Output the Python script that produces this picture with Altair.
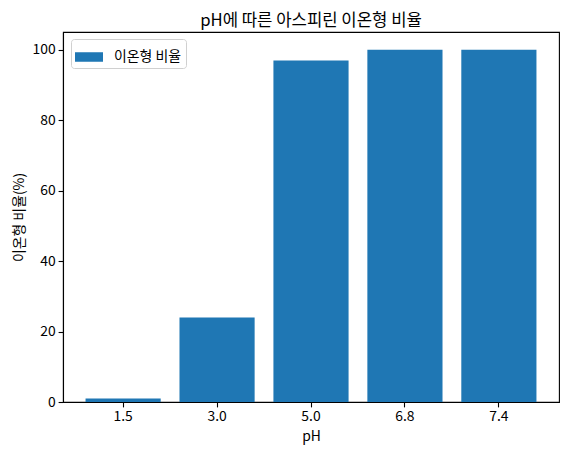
import altair as alt
import pandas as pd

ph_labels = ["1.5", "3.0", "5.0", "6.8", "7.4"]
ionized_pct = [0.99, 24.0, 96.9, 99.95, 99.99]
series_name = ["이온형 비율"] * 5

df = pd.DataFrame({"pH": ph_labels, "pct": ionized_pct, "series": series_name})

FONT = "Noto Sans CJK KR"

bars = alt.Chart(df).mark_bar().encode(
    x=alt.X("pH:N", sort=None,
            scale=alt.Scale(paddingInner=0.2, paddingOuter=0.24),
            axis=alt.Axis(title="pH", labelAngle=0, labelFontSize=13.9, titleFontSize=13.9,
                          labelFont=FONT, titleFont=FONT, labelColor="black", titleColor="black",
                          titleFontWeight="normal", tickColor="black", domainColor="black",
                          tickSize=4.9, labelPadding=3, titlePadding=6, domainWidth=1.1, tickWidth=1.1)),
    y=alt.Y("pct:Q", scale=alt.Scale(domain=[0, 105], nice=False, zero=True),
            axis=alt.Axis(title="이온형 비율(%)", values=[0, 20, 40, 60, 80, 100], grid=False,
                          labelFontSize=13.9, titleFontSize=13.9, labelFont=FONT, titleFont=FONT,
                          labelColor="black", titleColor="black", titleFontWeight="normal",
                          tickColor="black", domainColor="black", tickSize=4.9, labelPadding=3,
                          titlePadding=5, domainWidth=1.1, tickWidth=1.1)),
    color=alt.Color("series:N", scale=alt.Scale(range=["#1f77b4"]),
                    legend=alt.Legend(title=None, orient="none", legendX=8, legendY=7,
                                      symbolType="M-1,-0.34L1,-0.34L1,0.34L-1,0.34Z",
                                      symbolSize=784, symbolStrokeWidth=0,
                                      labelFont=FONT, labelFontSize=13.9, labelColor="black",
                                      labelOffset=11, padding=4,
                                      strokeColor="#d0d0d0", fillColor="white", cornerRadius=3)),
)

chart = bars.properties(
    width=496, height=370,
    background="white",
    title=alt.TitleParams("pH에 따른 아스피린 이온형 비율", font=FONT, fontSize=16.7,
                          fontWeight="normal", color="black", anchor="middle", offset=2),
    autosize=alt.AutoSizeParams(type="none"),
    padding={"left": 55, "top": 24, "right": 2, "bottom": 53},
).configure_view(stroke="black", strokeWidth=1.1)

chart.save("out.html", embed_options={"renderer": "svg", "actions": False})
